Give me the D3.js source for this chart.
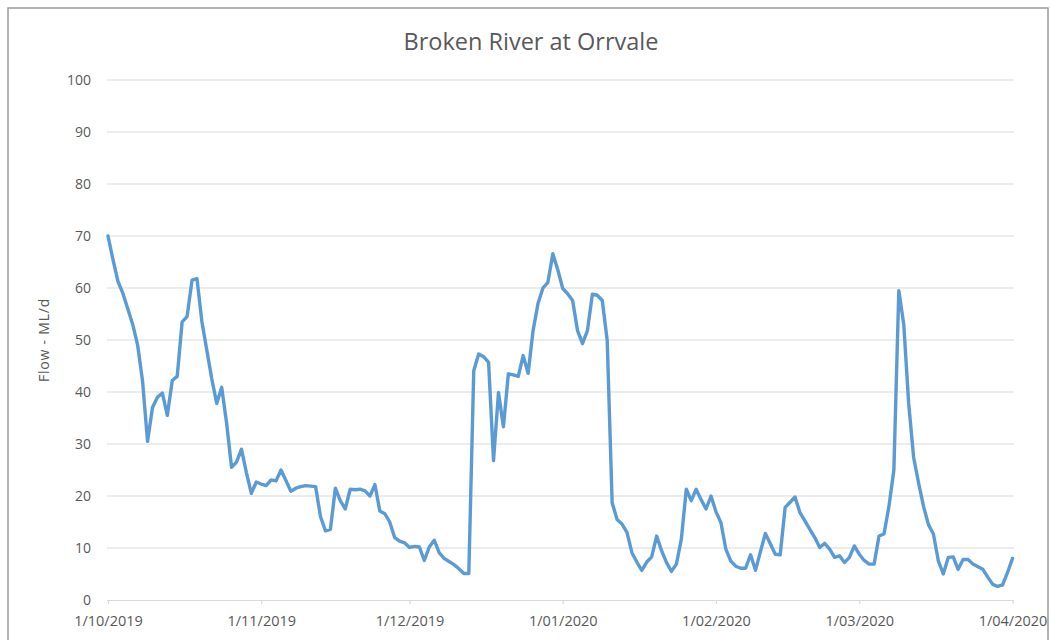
<!DOCTYPE html>
<html>
<head>
<meta charset="utf-8">
<script src="https://cdn.jsdelivr.net/npm/d3@7"></script>
<style>
  html, body { margin: 0; padding: 0; background: #fff; }
  svg { display: block; }
  text { font-family: "Open Sans", Lato, sans-serif; fill: #595959; }
</style>
</head>
<body>
<svg id="chart" width="1050" height="640"></svg>
<script>
// ---- data ----
const chartTitle = "Broken River at Orrvale";
const yAxisTitle = "Flow - ML/d";
const startDate = "2019-10-01";   // first daily reading
const endDate = "2020-04-01";     // last daily reading
// daily flow (ML/d), 1 Oct 2019 .. 1 Apr 2020
const flow = [
  70, 65.5, 61.3, 59, 56, 53, 49, 42, 30.5, 37,
  39, 39.8, 35.5, 42.2, 43, 53.5, 54.5, 61.5, 61.8, 53.5,
  48, 42.5, 37.8, 40.9, 34, 25.5, 26.5, 29, 24.5, 20.5,
  22.7, 22.3, 22, 23.1, 22.9, 25, 23, 20.9, 21.5, 21.8,
  22, 21.9, 21.8, 16, 13.3, 13.6, 21.5, 19.1, 17.5, 21.3,
  21.2, 21.3, 21, 20, 22.2, 17.1, 16.6, 15, 12, 11.3,
  11, 10.1, 10.3, 10.2, 7.6, 10.2, 11.5, 9.1, 8, 7.4,
  6.8, 6, 5.1, 5.1, 44.1, 47.3, 46.8, 45.7, 26.8, 39.9,
  33.3, 43.5, 43.3, 43, 47, 43.6, 51.8, 57, 60, 61.1,
  66.6, 63.5, 59.9, 58.9, 57.6, 51.8, 49.3, 51.8, 58.8, 58.6,
  57.6, 49.9, 18.7, 15.5, 14.6, 13, 9.1, 7.3, 5.7, 7.3,
  8.3, 12.3, 9.5, 7.2, 5.5, 6.9, 11.7, 21.3, 19.1, 21.3,
  19.3, 17.5, 20, 17, 14.9, 9.8, 7.5, 6.5, 6.1, 6.1,
  8.7, 5.7, 9.3, 12.8, 10.8, 8.8, 8.7, 17.8, 18.8, 19.8,
  16.8, 15.2, 13.6, 12, 10.1, 10.9, 9.8, 8.2, 8.5, 7.2,
  8.2, 10.4, 8.8, 7.6, 6.9, 6.9, 12.3, 12.7, 18, 25,
  59.5, 53, 37.7, 27.4, 22.5, 18, 14.5, 12.7, 7.5, 5,
  8.2, 8.3, 5.9, 7.8, 7.8, 6.9, 6.4, 5.9, 4.4, 3,
  2.6, 2.9, 5.3, 8
];
const yTicks = [0, 10, 20, 30, 40, 50, 60, 70, 80, 90, 100];
const xTickDates = ["2019-10-01", "2019-11-01", "2019-12-01", "2020-01-01", "2020-02-01", "2020-03-01", "2020-04-01"];
const xTickLabels = ["1/10/2019", "1/11/2019", "1/12/2019", "1/01/2020", "1/02/2020", "1/03/2020", "1/04/2020"];

// ---- drawing ----
const svg = d3.select("#chart");
const parse = d3.timeParse("%Y-%m-%d");
const t0 = parse(startDate);
const series = flow.map((v, i) => ({ date: d3.timeDay.offset(t0, i), value: v }));

const x = d3.scaleTime().domain([t0, parse(endDate)]).range([108, 1012.5]);
const y = d3.scaleLinear().domain([0, 100]).range([600, 80]);

// outer chart border
svg.append("rect")
  .attr("x", 8).attr("y", 8).attr("width", 1040).attr("height", 660)
  .attr("fill", "none").attr("stroke", "#9a9a9a").attr("stroke-width", 1.5);

// title
svg.append("text")
  .attr("x", 531).attr("y", 50)
  .attr("text-anchor", "middle")
  .attr("font-size", 23.5)
  .text(chartTitle);

// gridlines
const gridX0 = 107, gridX1 = 1014;
svg.append("g").selectAll("line")
  .data(yTicks.filter(d => d !== 0))
  .join("line")
  .attr("x1", gridX0).attr("x2", gridX1)
  .attr("y1", d => y(d)).attr("y2", d => y(d))
  .attr("stroke", "#d9d9d9").attr("stroke-width", 1.2);

// y axis labels
const yAxis = d3.axisLeft(y).tickValues(yTicks).tickSize(0).tickPadding(0).tickFormat(d3.format("d"));
const gy = svg.append("g").attr("transform", "translate(91,0)").call(yAxis);
gy.select(".domain").remove();
gy.selectAll("text").attr("font-size", 14).attr("fill", "#595959")
  .style("font-family", "'Open Sans', Lato, sans-serif");

// x axis
const xAxis = d3.axisBottom(x)
  .tickValues(xTickDates.map(parse))
  .tickSize(4)
  .tickPadding(12)
  .tickFormat((d, i) => xTickLabels[i]);
const gx = svg.append("g").attr("transform", `translate(0,${y(0)})`).call(xAxis);
gx.select(".domain").attr("d", `M${gridX0},0.5H${gridX1}`).attr("stroke", "#d9d9d9").attr("stroke-width", 1.2);
gx.selectAll(".tick line").attr("stroke", "#d9d9d9").attr("stroke-width", 1.2);
gx.selectAll("text").attr("font-size", 14.5).attr("fill", "#595959")
  .style("font-family", "'Open Sans', Lato, sans-serif");

// y axis title
svg.append("text")
  .attr("transform", "translate(49,340) rotate(-90)")
  .attr("text-anchor", "middle")
  .attr("font-size", 14)
  .attr("letter-spacing", 0.8)
  .text(yAxisTitle);

// flow line
const line = d3.line().x(d => x(d.date)).y(d => y(d.value));
svg.append("path")
  .datum(series)
  .attr("d", line)
  .attr("fill", "none")
  .attr("stroke", "#5B9BD5")
  .attr("stroke-width", 3.4)
  .attr("stroke-linejoin", "round")
  .attr("stroke-linecap", "round");
</script>
</body>
</html>
